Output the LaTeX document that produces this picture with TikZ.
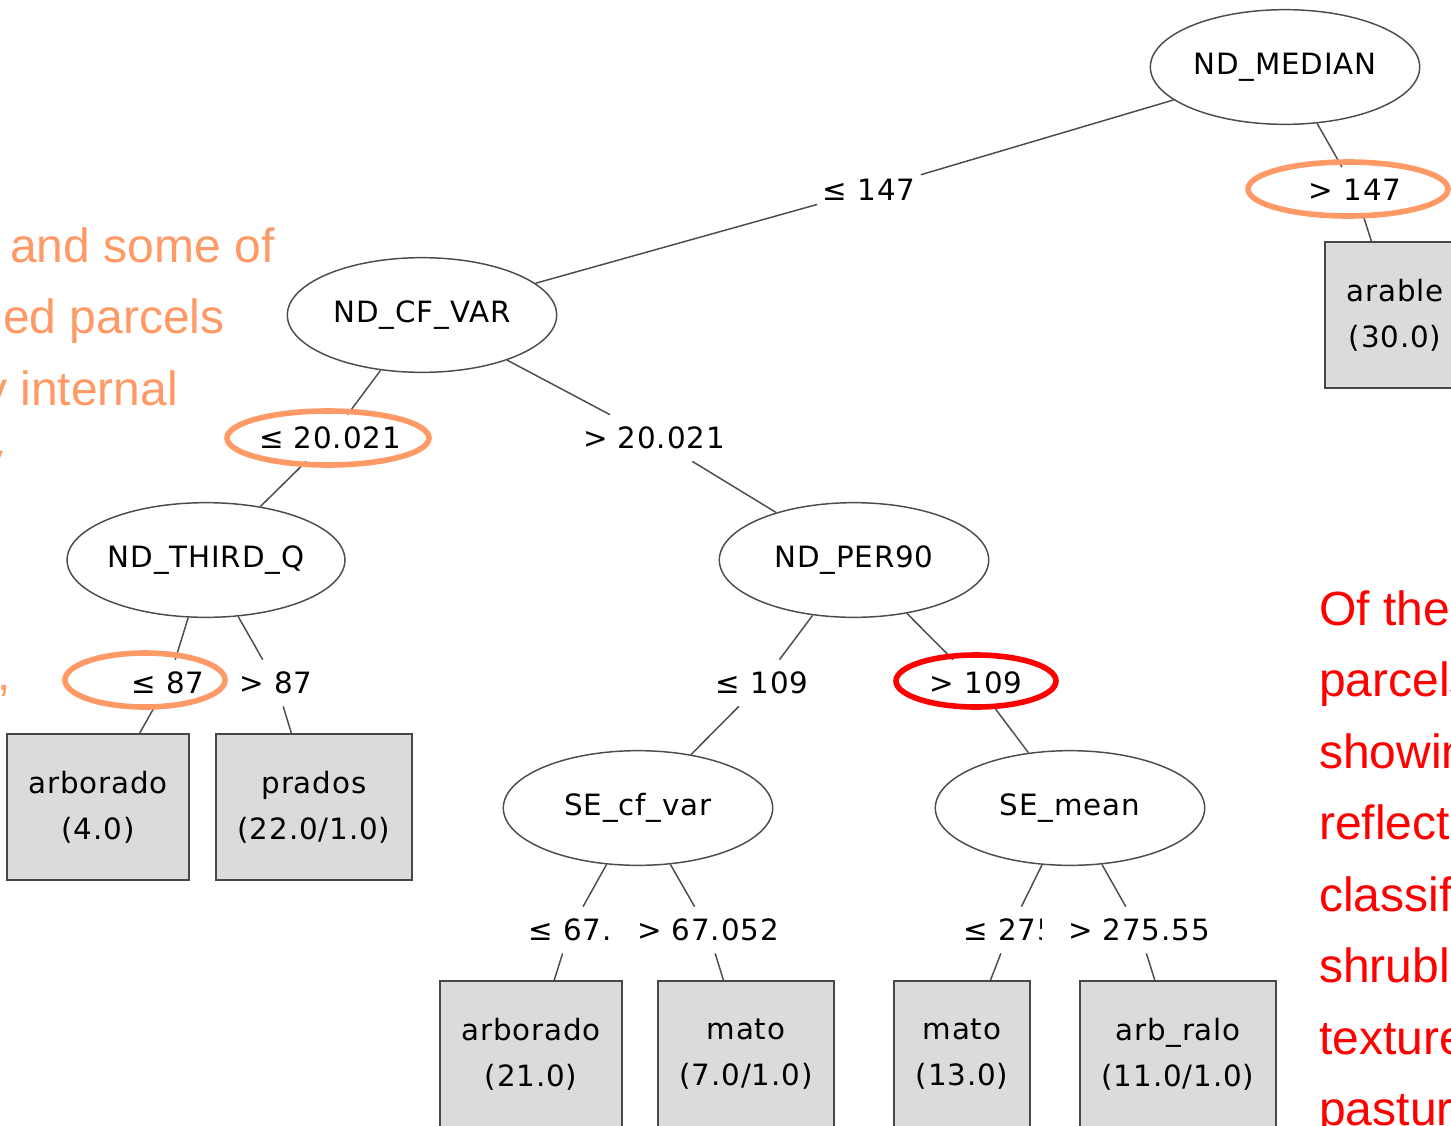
\documentclass[tikz,border=0pt]{standalone}
\usepackage{fontspec}
\setmainfont{Liberation Sans}
\newfontfamily\treefont[LetterSpace=3]{DejaVu Sans}
\usepackage{tikz}
\usetikzlibrary{shapes.geometric}
\definecolor{salmon}{HTML}{FF9966}
\tikzstyle{test}=[draw=black!70,line width=1.1pt,ellipse,
  minimum width=202pt,minimum height=86pt,inner sep=0pt,
  font=\treefont\fontsize{22}{30}\selectfont]
\tikzstyle{leaf}=[draw=black!72,line width=1.6pt,fill=black!14,
  minimum height=109pt,inner xsep=16pt,align=center,
  font=\treefont\fontsize{22}{34.5}\selectfont]
\tikzstyle{cut}=[inner xsep=4pt,inner ysep=9pt,
  font=\treefont\fontsize{22}{30}\selectfont]
\tikzstyle{edge}=[draw=black!70,line width=1.1pt]
\tikzstyle{hilite}=[salmon,line width=4.2pt]
\tikzstyle{say}=[anchor=base west,inner sep=0pt,font=\fontsize{36}{43}\selectfont]

\begin{document}
\begin{tikzpicture}[x=0.75pt,y=-0.75pt]
  \clip (0,0) rectangle (1451,1125);
  % tests
  \node[test] (median)  at (1285,67)  {ND\_MEDIAN};
  \node[test] (cfvar)   at (422,315)  {ND\_CF\_VAR};
  \node[test] (thirdq)  at (206,560)  {ND\_THIRD\_Q};
  \node[test] (per90)   at (854,560)  {ND\_PER90};
  \node[test] (secfvar) at (638,808)  {SE\_cf\_var};
  \node[test] (semean)  at (1070,808) {SE\_mean};
  % leaves
  \node[leaf] (arable)  at (1395,315)  {arable\\(30.0)};
  \node[leaf] (arb1)    at (98,807)    {arborado\\(4.0)};
  \node[leaf] (prados)  at (314,807)   {prados\\(22.0/1.0)};
  \node[leaf] (arb2)    at (531,1054)  {arborado\\(21.0)};
  \node[leaf] (mato1)   at (746,1054)  {mato\\(7.0/1.0)};
  \node[leaf] (mato2)   at (962,1054)  {mato\\(13.0)};
  \node[leaf] (arbralo) at (1178,1054) {arb\_ralo\\(11.0/1.0)};
  % split values
  \node[cut] (l147) at (869,190)  {≤ 147};
  \node[cut] (g147) at (1355,190) {> 147};
  \node[cut] (l20)  at (330,438)  {≤ 20.021};
  \node[cut] (g20)  at (654,438)  {> 20.021};
  \node[cut] (l87)  at (168,683)  {≤ 87};
  \node[cut] (g87)  at (276,683)  {> 87};
  \node[cut] (l109) at (762,683)  {≤ 109};
  \node[cut] (g109) at (976,683)  {> 109};
  \node[cut] (l67)  at (570,930)  {≤ 67.};
  \node[cut] (g67)  at (708,930)  {> 67.052};
  \begin{scope}
    \clip (940,900) rectangle (1041,960);
    \node[cut,anchor=west] (l275) at (958,930) {≤ 275};
  \end{scope}
  \node[cut] (g275) at (1139,930) {> 275.55};
  % branches
  \draw[edge] (cfvar) -- (l147) (l147) -- (median);
  \draw[edge] (median) -- (g147) (g147) -- (arable);
  \draw[edge] (cfvar) -- (l20) (l20) -- (thirdq);
  \draw[edge] (cfvar) -- (g20) (g20) -- (per90);
  \draw[edge] (thirdq) -- (l87) (l87) -- (arb1);
  \draw[edge] (thirdq) -- (g87) (g87) -- (prados);
  \draw[edge] (per90) -- (l109) (l109) -- (secfvar);
  \draw[edge] (per90) -- (g109) (g109) -- (semean);
  \draw[edge] (secfvar) -- (l67) (l67) -- (arb2);
  \draw[edge] (secfvar) -- (g67) (g67) -- (mato1);
  \draw[edge] (semean) -- (l275) (l275) -- (mato2);
  \draw[edge] (semean) -- (g275) (g275) -- (arbralo);
  % marks
  \draw[hilite] (1348,189) ellipse [x radius=100,y radius=27];
  \draw[hilite] (328,438) ellipse [x radius=101,y radius=27];
  \draw[hilite] (145,680) ellipse [x radius=80,y radius=27];
  \draw[hilite,red] (976,681) ellipse [x radius=80,y radius=26];
  % slide text
  \node[say,salmon] (s1) at (10,262)  {and some of};
  \node[say,salmon] (s2) at (3,333)   {ed parcels};
  \node[say,salmon] (s3) at (-17,405) {y internal};
  \node[say,salmon] (s4) at (-21,476) {y};
  \node[say,salmon] (s5) at (-3,690)  {,};
  \node[say,red] (r1) at (1319,625)  {Of the};
  \node[say,red] (r2) at (1319,696)  {parcels};
  \node[say,red] (r3) at (1319,768)  {showing};
  \node[say,red] (r4) at (1319,839)  {reflect};
  \node[say,red] (r5) at (1319,911)  {classif};
  \node[say,red] (r6) at (1319,982)  {shrubl};
  \node[say,red] (r7) at (1319,1054) {texture};
  \node[say,red] (r8) at (1319,1125) {pastur};
\end{tikzpicture}
\end{document}
